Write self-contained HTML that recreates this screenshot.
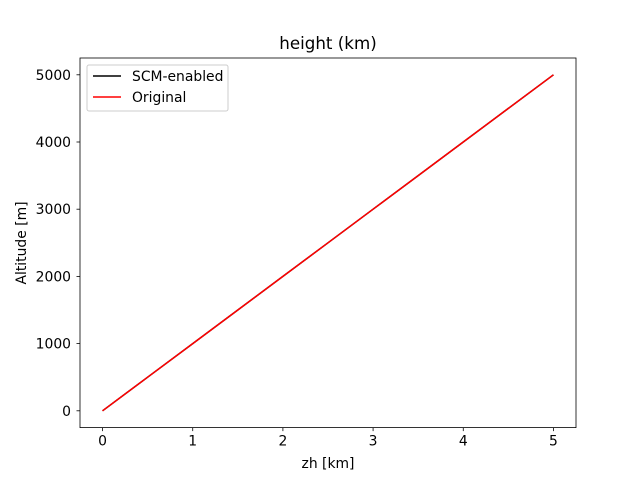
<!DOCTYPE html>
<html><head><meta charset="utf-8"><style>
body{margin:0;background:#fff;}
svg{display:block;font-family:"DejaVu Sans","Liberation Sans",sans-serif;}
</style></head><body>
<svg id="chart" width="640" height="480">
<rect x="0" y="0" width="640" height="480" fill="#fff"/>
<text x="328" y="49" font-size="16.7" text-anchor="middle">height (km)</text>
<g id="ticks"></g>
<g id="lines"></g>
<rect x="80" y="58" width="496" height="369.6" fill="none" stroke="#000" stroke-width="0.8"/>
<text x="328" y="468" font-size="13.9" text-anchor="middle">zh [km]</text>
<text x="26" y="243" font-size="13.9" text-anchor="middle" transform="rotate(-90 26 243)">Altitude [m]</text>
<g>
<rect x="87" y="65" width="141" height="46" rx="2" fill="#fff" stroke="#ccc" stroke-width="1"/>
<line x1="93" y1="76" x2="121" y2="76" stroke="#000" stroke-width="1.5"/>
<text x="132" y="81" font-size="13.9">SCM-enabled</text>
<line x1="93" y1="97" x2="121" y2="97" stroke="#f00" stroke-width="1.5"/>
<text x="132" y="102" font-size="13.9">Original</text>
</g>
</svg>
<script>
const altitudes=[0,500,1000,1500,2000,2500,3000,3500,4000,4500,5000];
const scmZh=[0,0.5,1,1.5,2,2.5,3,3.5,4,4.5,5];
const origZh=[0,0.5,1,1.5,2,2.5,3,3.5,4,4.5,5];
const xTicks=[0,1,2,3,4,5];
const yTicks=[0,1000,2000,3000,4000,5000];
const X=v=>80+(v+0.25)*90.18;
const Y=v=>427.6-(v+250)*0.0672;
const NS="http://www.w3.org/2000/svg";
const tg=document.getElementById('ticks');
function mk(tag,attrs,parent){const e=document.createElementNS(NS,tag);for(const k in attrs)e.setAttribute(k,attrs[k]);parent.appendChild(e);return e;}
xTicks.forEach(t=>{
 const l=mk('line',{x1:X(t),x2:X(t),y1:427.6,y2:431.1,stroke:'#000','stroke-width':0.8},tg);
 
 
 const tx=mk('text',{x:X(t),y:445.5,'font-size':13.9,'text-anchor':'middle'},tg);tx.textContent=t;
 
 
});
yTicks.forEach(t=>{
 const l=mk('line',{x1:76.5,x2:80,y1:Y(t),y2:Y(t),stroke:'#000','stroke-width':0.8},tg);
 
 
 const tx=mk('text',{x:71,y:Y(t)+5,'font-size':13.9,'text-anchor':'end'},tg);tx.textContent=t;
 
 
});
const lg=document.getElementById('lines');
const p1=mk('polyline',{points:scmZh.map((v,i)=>X(v)+','+Y(altitudes[i])).join(' '),fill:'none',stroke:'#000','stroke-width':1.5},lg);


const p2=mk('polyline',{points:origZh.map((v,i)=>X(v)+','+Y(altitudes[i])).join(' '),fill:'none',stroke:'#f00','stroke-width':1.5},lg);


</script>
</body></html>
